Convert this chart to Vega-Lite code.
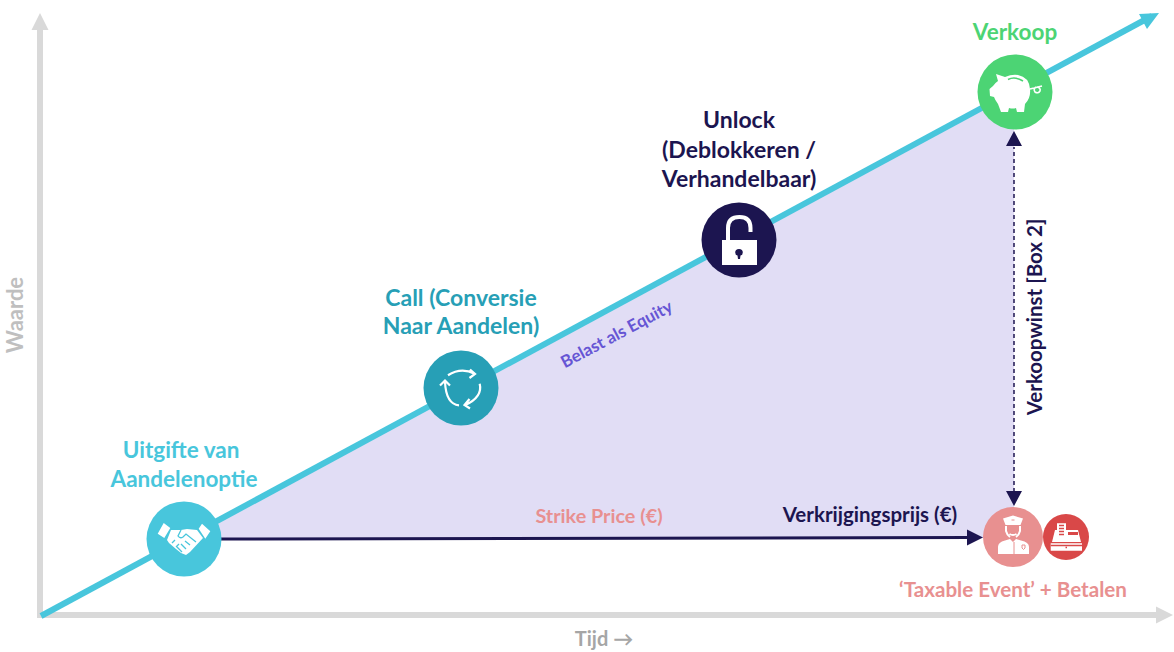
{"$schema":"https://vega.github.io/schema/vega-lite/v6.json","width":1174,"height":652,"autosize":{"type":"fit","contains":"padding"},"padding":0,"background":"#ffffff","view":{"stroke":null},"config":{"text":{"font":"Lato","fontWeight":700,"align":"center","baseline":"middle"}},"encoding":{"x":{"field":"x","type":"quantitative","axis":null,"scale":{"domain":[0,1174],"range":[0,1174],"nice":false,"zero":false}},"y":{"field":"y","type":"quantitative","axis":null,"scale":{"domain":[0,652],"range":[652,0],"nice":false,"zero":false}}},"layer":[
{"data":{"values":[{"x":185,"y":114,"y0":114},{"x":1014,"y":562,"y0":114}]},"mark":{"type":"area","color":"#e1ddf5","opacity":1},"encoding":{"y2":{"field":"y0"}}},
{"data":{"values":[{"part":"value","x":40,"y":622,"x2":40,"y2":34},{"part":"time","x":38,"y":37,"x2":1158,"y2":37}]},"mark":{"type":"rule","color":"#d9d9d9","strokeWidth":6},"encoding":{"x2":{"field":"x2"},"y2":{"field":"y2"}}},
{"data":{"values":[{"x":40,"y":622}]},"mark":{"type":"point","filled":true,"opacity":1,"color":"#d9d9d9","strokeWidth":0,"size":4,"shape":"M-8.5,0 L0,-17 L8.5,0 Z"}},
{"data":{"values":[{"x":1156,"y":37}]},"mark":{"type":"point","filled":true,"opacity":1,"color":"#d9d9d9","strokeWidth":0,"size":4,"shape":"M0,-8.5 L17,0 L0,8.5 Z"}},
{"data":{"values":[{"x":41,"y":36},{"x":1152,"y":636}]},"mark":{"type":"line","color":"#48c6dc","strokeWidth":6}},
{"data":{"values":[{"x":1159,"y":639}]},"mark":{"type":"point","filled":true,"opacity":1,"color":"#48c6dc","strokeWidth":0,"size":4,"shape":"M0,0 L-20,1 L-12,16 Z"}},
{"data":{"values":[{"x":220,"y":113},{"x":970,"y":114.5}]},"mark":{"type":"line","color":"#1c1550","strokeWidth":3}},
{"data":{"values":[{"x":983,"y":114.5}]},"mark":{"type":"point","filled":true,"opacity":1,"color":"#1c1550","strokeWidth":0,"size":4,"shape":"M0,0 L-16,-8 L-16,8 Z"}},
{"data":{"values":[{"x":1014,"y":160},{"x":1014,"y":505}]},"mark":{"type":"line","color":"#1c1550","strokeWidth":1.5,"strokeDash":[4,3]}},
{"data":{"values":[{"x":1014,"y":521}]},"mark":{"type":"point","filled":true,"opacity":1,"color":"#1c1550","strokeWidth":0,"size":4,"shape":"M0,0 L-8,15 L8,15 Z"}},
{"data":{"values":[{"x":1014,"y":146}]},"mark":{"type":"point","filled":true,"opacity":1,"color":"#1c1550","strokeWidth":0,"size":4,"shape":"M0,0 L-8,-15 L8,-15 Z"}},

{"data":{"values":[{"x":184,"y":113}]},"mark":{"type":"circle","opacity":1,"color":"#48c6dc","size":5625}},
{"data":{"values":[{"x":461,"y":264}]},"mark":{"type":"circle","opacity":1,"color":"#279fb6","size":5625}},
{"data":{"values":[{"x":739,"y":412}]},"mark":{"type":"circle","opacity":1,"color":"#1c1550","size":5625}},
{"data":{"values":[{"x":1015,"y":560}]},"mark":{"type":"circle","opacity":1,"color":"#4cd474","size":5625}},
{"data":{"values":[{"x":1013,"y":115}]},"mark":{"type":"circle","opacity":1,"color":"#e89090","size":3600}},
{"data":{"values":[{"x":1066,"y":115}]},"mark":{"type":"circle","opacity":1,"color":"#d94848","size":2116}},

{"data":{"values":[{"icon":"handshake","x":184,"y":113}]},"mark":{"type":"point","filled":true,"opacity":1,"color":"#ffffff","strokeWidth":0,"size":4,"shape":"M-20.3,-16 L-13.7,-11 L-19.7,-1 L-26.3,-5.3 Z M18,-15.3 L26.3,-7.7 L21.3,-0.3 L14.7,-10.3 Z M-13,-9 L-3,-9 L3,-10 L13,-9 L19,-1 L6,13 L2,16 L-3,14 L-8,10 L-15,4 L-17,1 Z"}},
{"data":{"values":[{"icon":"handshake-lines","x":184,"y":113}]},"mark":{"type":"point","filled":false,"opacity":1,"color":"#48c6dc","strokeWidth":1.3,"size":4,"shape":"M-3,-9 L-6,-3 Q-4,0 -1,-2 L2,-5 L12,3 M6,6 L1,2 M2,10 L-3,5 M-2,13 L-7,8 M-12,4 L-9,1 M-8,8 L-5,5"}},
{"data":{"values":[{"icon":"refresh","x":461,"y":264}]},"mark":{"type":"point","filled":false,"opacity":1,"color":"#ffffff","strokeWidth":2.2,"size":4,"shape":"M-13,-12.7 Q0,-21 13.7,-14.3 M9,-18.5 L14,-14 L8.5,-10 M18.7,-4.3 Q22,9 3.7,17.3 M8.5,11 L3.5,17 L9,20.5 M-2,17.3 Q-15,16 -16,-6 M-21,-2.5 L-16,-7.5 L-11,-2.5"}},
{"data":{"values":[{"icon":"lock-body","x":739,"y":412}]},"mark":{"type":"point","filled":true,"opacity":1,"color":"#ffffff","strokeWidth":0,"size":4,"shape":"M-17,0 L18,0 L18,25 L-17,25 Z"}},
{"data":{"values":[{"icon":"lock-shackle","x":739,"y":412}]},"mark":{"type":"point","filled":false,"opacity":1,"color":"#ffffff","strokeWidth":4,"size":4,"shape":"M-11,1 L-11,-12 Q-11,-23 0.5,-23 Q11.5,-23 11.5,-12 L11.5,-8"}},
{"data":{"values":[{"icon":"lock-key","x":739,"y":412}]},"mark":{"type":"point","filled":true,"opacity":1,"color":"#1c1550","strokeWidth":0,"size":4,"shape":"M-3.8,12.5 Q-3.8,9 0,9 Q3.8,9 3.8,12.5 Q3.8,15 1.5,15.5 L1,19 L-1,19 L-1.5,15.5 Q-3.8,15 -3.8,12.5 Z"}},
{"data":{"values":[{"icon":"pig","x":1015,"y":560}]},"mark":{"type":"point","filled":true,"opacity":1,"color":"#ffffff","strokeWidth":0,"size":4,"shape":"M-19,-18 L-10,-15 Q-3,-18 3,-17 Q14,-15 15,-3 Q16,6 10,12 L9,20 L2,20 L1,16 Q-2,17 -6,16 L-7,20 L-14,20 L-17,12 Q-20,8 -21,5 L-25,4 L-25.5,-3 L-22,-6 Q-20,-9 -17,-11 Z"}},
{"data":{"values":[{"icon":"pig-slot","x":1015,"y":560}]},"mark":{"type":"point","filled":false,"opacity":1,"color":"#4cd474","strokeWidth":1.6,"size":4,"shape":"M-7,-12.5 Q0,-16 8,-11"}},
{"data":{"values":[{"icon":"pig-tail","x":1015,"y":560}]},"mark":{"type":"point","filled":false,"opacity":1,"color":"#ffffff","strokeWidth":1.6,"size":4,"shape":"M15,-3 L27,-6 M22,-5 Q26,-4 25,-1 Q23,2 20,0 Q18,-3 21,-5"}},
{"data":{"values":[{"icon":"officer","x":1013,"y":115}]},"mark":{"type":"point","filled":true,"opacity":1,"color":"#ffffff","strokeWidth":0,"size":4,"shape":"M-10,-18.5 L0,-21.5 L10,-18.5 L7.5,-12 L-7.5,-12 Z M-15,17 L-15,10 Q-15,5 -8,3.5 L-3,2 L0,5 L3,2 L8,3.5 Q16,5 16,10 L16,17 Z"}},
{"data":{"values":[{"icon":"officer-face","x":1013,"y":115}]},"mark":{"type":"point","filled":false,"opacity":1,"color":"#ffffff","strokeWidth":2,"size":4,"shape":"M-7,-11 L-7,-6 Q-6,-2 -3,0 M7,-11 L7,-6 Q6,-2 3,0 M-3.5,-3 Q0,-1 3.5,-3"}},
{"data":{"values":[{"icon":"officer-details","x":1013,"y":115}]},"mark":{"type":"point","filled":false,"opacity":1,"color":"#e89090","strokeWidth":1,"size":4,"shape":"M1,5 L1,17 M-1.5,-17 L1.5,-17 M9,8 L12,8 L12,11 L10.5,12.5 L9,11 Z"}},
{"data":{"values":[{"icon":"register","x":1066,"y":115}]},"mark":{"type":"point","filled":true,"opacity":1,"color":"#ffffff","strokeWidth":0,"size":4,"shape":"M-15.3,6.3 L16,6.3 L16,13.7 L-15.3,13.7 Z M-9,-13.7 L0,-13.7 L0,-7 L12,-7 L15,5 L-14,5 L-11,-7 L-9,-7 Z"}},
{"data":{"values":[{"icon":"register-details","x":1066,"y":115}]},"mark":{"type":"point","filled":false,"opacity":1,"color":"#d94848","strokeWidth":1.3,"size":4,"shape":"M-7,-11.5 L-2,-11.5 M-7,-8.5 L-2,-8.5 M-7,-5.5 L-2,-5.5 M-7,-2.5 L-2,-2.5 M-0.5,10.5 L1,10.5 M-15.3,8.5 L16,8.5"}},
{"data":{"values":[{"icon":"register-display","x":1066,"y":115}]},"mark":{"type":"point","filled":true,"opacity":1,"color":"#d94848","strokeWidth":0,"size":4,"shape":"M2,-5 L12,-5 L12,-2 L2,-2 Z"}},

{"data":{"values":[{"label":"Uitgifte van","x":181,"y":201},{"label":"Aandelenoptie","x":184,"y":172}]},"mark":{"type":"text","fontSize":22.5,"color":"#48c6dc"},"encoding":{"text":{"field":"label"}}},
{"data":{"values":[{"label":"Call (Conversie","x":461,"y":353},{"label":"Naar Aandelen)","x":461,"y":325}]},"mark":{"type":"text","fontSize":23,"color":"#279fb6"},"encoding":{"text":{"field":"label"}}},
{"data":{"values":[{"label":"Unlock","x":739,"y":531},{"label":"(Deblokkeren /","x":739,"y":501},{"label":"Verhandelbaar)","x":739,"y":472}]},"mark":{"type":"text","fontSize":23,"color":"#1c1550"},"encoding":{"text":{"field":"label"}}},
{"data":{"values":[{"label":"Verkoop","x":1015,"y":619}]},"mark":{"type":"text","fontSize":22.5,"color":"#4cd474"},"encoding":{"text":{"field":"label"}}},
{"data":{"values":[{"label":"Verkoopwinst [Box 2]","x":1036,"y":335}]},"mark":{"type":"text","fontSize":20.5,"angle":270,"color":"#1c1550"},"encoding":{"text":{"field":"label"}}},
{"data":{"values":[{"label":"Belast als Equity","x":617,"y":317}]},"mark":{"type":"text","fontSize":17,"angle":332,"color":"#6655d4"},"encoding":{"text":{"field":"label"}}},
{"data":{"values":[{"label":"Strike Price (€)","x":599,"y":135}]},"mark":{"type":"text","fontSize":19.8,"color":"#e89090"},"encoding":{"text":{"field":"label"}}},
{"data":{"values":[{"label":"Verkrijgingsprijs (€)","x":870,"y":136}]},"mark":{"type":"text","fontSize":20.5,"color":"#1c1550"},"encoding":{"text":{"field":"label"}}},
{"data":{"values":[{"label":"‘Taxable Event’ + Betalen","x":1013,"y":61}]},"mark":{"type":"text","fontSize":20.6,"color":"#e89090"},"encoding":{"text":{"field":"label"}}},
{"data":{"values":[{"label":"Waarde","x":16,"y":337}]},"mark":{"type":"text","fontSize":22,"angle":270,"color":"#bfbfbf"},"encoding":{"text":{"field":"label"}}},
{"data":{"values":[{"label":"Tijd →","x":604,"y":12}]},"mark":{"type":"text","fontSize":20,"color":"#a6a6a6"},"encoding":{"text":{"field":"label"}}}
]}
